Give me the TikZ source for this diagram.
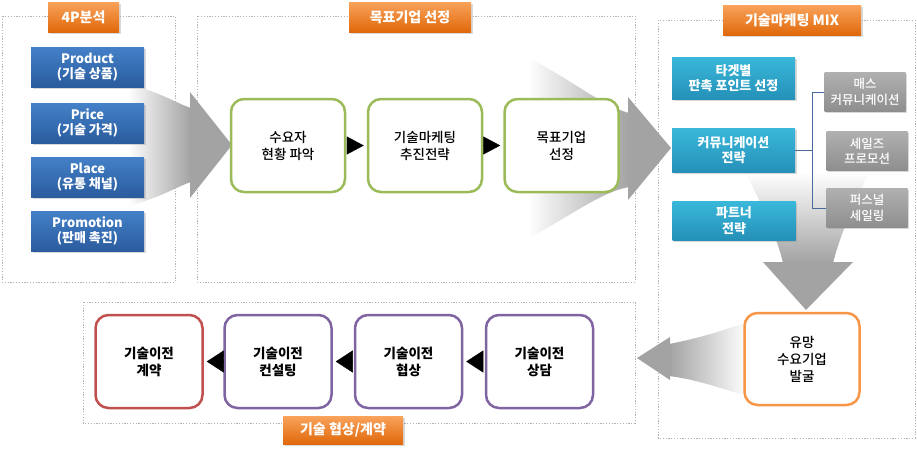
\documentclass[tikz,border=0pt]{standalone}
\usepackage{fontspec}
\setmainfont{Noto Sans CJK KR}
\newfontfamily\medium{Noto Sans CJK KR Medium}
\usetikzlibrary{arrows.meta,shadows}
\definecolor{tagtop}{HTML}{F9A35C}
\definecolor{tagbot}{HTML}{E0680A}
\definecolor{bluetop}{HTML}{4480C8}
\definecolor{bluebot}{HTML}{2A5C9E}
\definecolor{tealtop}{HTML}{3AB8DA}
\definecolor{tealbot}{HTML}{2490B8}
\definecolor{greytop}{HTML}{B0B0B0}
\definecolor{greybot}{HTML}{8E8E8E}
\definecolor{arrowgray}{HTML}{A3A3A3}
\definecolor{stepgreen}{HTML}{9BBB59}
\definecolor{steppurple}{HTML}{8064A2}
\definecolor{stepred}{HTML}{C0504D}
\definecolor{steporange}{HTML}{F79646}
\definecolor{bracketblue}{HTML}{4A6A9A}
\begin{document}
\begin{tikzpicture}[x=1pt,y=-1pt,
  group/.style={draw=gray!60,line width=1pt,dash pattern=on 1.2pt off 1.6pt},
  tag/.style={top color=tagtop,bottom color=tagbot,text=white,inner sep=0pt,
    font=\fontsize{14}{17}\selectfont\bfseries,minimum height=30,
    drop shadow={shadow xshift=1.5pt,shadow yshift=-1.5pt,opacity=0.3}},
  mixbox/.style={text=white,inner sep=0pt,align=center,
    font=\fontsize{13}{15.5}\selectfont\bfseries,
    drop shadow={shadow xshift=1.5pt,shadow yshift=-1.5pt,opacity=0.3}},
  fourp/.style={mixbox,top color=bluetop,bottom color=bluebot,minimum width=113,minimum height=40},
  teal/.style={mixbox,top color=tealtop,bottom color=tealbot,minimum width=123},
  greybox/.style={mixbox,top color=greytop,bottom color=greybot,minimum width=81,minimum height=39,
    font=\fontsize{12.5}{15.5}\selectfont\medium},
  stepbox/.style={draw=#1,fill=white,line width=2.5pt,rounded corners=13pt,align=center,
    inner sep=0pt,font=\fontsize{13.5}{17}\selectfont\medium},
  deal/.style={stepbox=#1,minimum width=107,minimum height=93,font=\fontsize{13.5}{17}\selectfont\bfseries},
  fwd/.style={-{Triangle[length=17pt,width=18pt]},shorten >=3pt,shorten <=3pt},
  back/.style={{Triangle[length=17pt,width=22pt]}-,shorten >=3pt,shorten <=3pt}
]
\useasboundingbox (0,0) rectangle (917,456);

\draw[group] (2,16) rectangle (175,282);
\draw[group] (197,16) rectangle (635,282);
\draw[group] (658,20) rectangle (915,438);
\draw[group] (83,302) rectangle (635,423);

\shade[left color=white,right color=arrowgray] (128,84) .. controls (160,92) and (178,104) .. (191,108)
  -- (191,182) .. controls (178,186) and (160,198) .. (128,206) -- cycle;
\fill[arrowgray] (190,92) -- (232,145) -- (190,198) -- cycle;
\shade[left color=white,right color=arrowgray] (528,58) .. controls (565,75) and (600,105) .. (629,113)
  -- (629,187) .. controls (600,192) and (565,220) .. (528,238) -- cycle;
\fill[arrowgray] (628,97) -- (671,148) -- (628,200) -- cycle;
\shade[top color=white,bottom color=arrowgray] (745,172) .. controls (760,200) and (778,240) .. (783,263)
  -- (833,263) .. controls (840,235) and (855,200) .. (870,172) -- cycle;
\fill[arrowgray] (763,262) -- (806,310) -- (853,262) -- cycle;
\shade[left color=arrowgray,right color=white] (669,344) .. controls (700,338) and (725,330) .. (747,322)
  -- (747,396) .. controls (725,390) and (700,380) .. (669,376) -- cycle;
\fill[arrowgray] (670,337) -- (637,358) -- (670,380) -- cycle;

\node[tag,minimum width=71] (tag4p) at (83.5,17) {4P분석};
\node[tag,minimum width=122] (tagtarget) at (410,17) {목표기업 선정};
\node[tag,minimum width=138] (tagmix) at (792,20) {기술마케팅 MIX};
\node[tag,minimum width=120,minimum height=28] (tagdeal) at (343,430) {기술 협상/계약};

\node[fourp] (product) at (87.5,67) {Product\\(기술 상품)};
\node[fourp] (price) at (87.5,123) {Price\\(기술 가격)};
\node[fourp] (place) at (87.5,177) {Place\\(유통 채널)};
\node[fourp] (promotion) at (87.5,231) {Promotion\\(판매 촉진)};

\node[stepbox=stepgreen,minimum width=114,minimum height=93] (survey) at (288,145.5) {수요자\\현황 파악};
\node[stepbox=stepgreen,minimum width=114,minimum height=93] (plan) at (425,145.5) {기술마케팅\\추진전략};
\node[stepbox=stepgreen,minimum width=114,minimum height=93] (target) at (561.5,145.5) {목표기업\\선정};
\draw[fwd] (survey) -- (plan);
\draw[fwd] (plan) -- (target);

\node[teal,minimum height=42] (point) at (733.5,78) {타겟별\\판촉 포인트 선정};
\node[teal,minimum height=44] (comm) at (733.5,150) {커뮤니케이션\\전략};
\node[teal,minimum height=39] (partner) at (734,220.5) {파트너\\전략};
\node[greybox] (mass) at (865,92) {매스\\커뮤니케이션};
\node[greybox] (sales) at (867,151) {세일즈\\프로모션};
\node[greybox] (personal) at (867,208) {퍼스널\\세일링};
\coordinate (split) at (812,150);
\draw[bracketblue,line width=1pt] (mass.west) -| (split) |- (personal.west);
\draw[bracketblue,line width=1pt] (comm.east) -- (split);

\node[stepbox=steporange,minimum width=115,minimum height=92] (found) at (802,359) {유망\\수요기업\\발굴};

\node[deal=stepred] (contract) at (149,361.5) {기술이전\\계약};
\node[deal=steppurple] (consult) at (278,361.5) {기술이전\\컨설팅};
\node[deal=steppurple] (negotiate) at (408.5,361.5) {기술이전\\협상};
\node[deal=steppurple] (counsel) at (539.5,361.5) {기술이전\\상담};
\draw[back] (contract) -- (consult);
\draw[back] (consult) -- (negotiate);
\draw[back] (negotiate) -- (counsel);
\end{tikzpicture}
\end{document}
